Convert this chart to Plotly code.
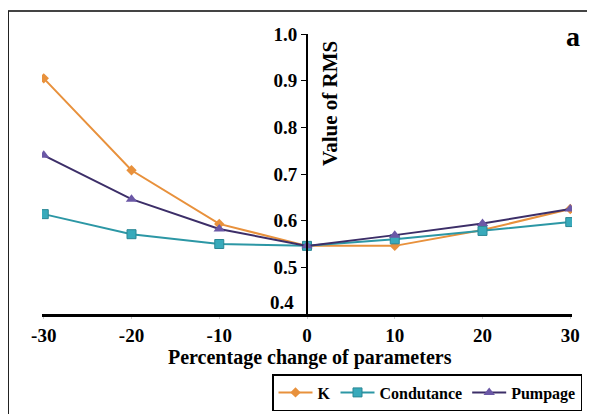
import plotly.graph_objects as go

pct_change = [-30, -20, -10, 0, 10, 20, 30]
rms_k = [0.905, 0.708, 0.593, 0.546, 0.546, 0.580, 0.625]
rms_conductance = [0.614, 0.571, 0.550, 0.546, 0.560, 0.578, 0.597]
rms_pumpage = [0.740, 0.646, 0.582, 0.546, 0.569, 0.594, 0.625]
y_ticks = [0.4, 0.5, 0.6, 0.7, 0.8, 0.9, 1.0]

FONT = "Liberation Serif"
W, H = 595, 414
OFF = 8  # page body margin offset in the screenshot
# plot area in screenshot pixels: x 42..572, y 34..314
L, R, T, B = 42 - OFF, W - (572 - OFF), 34 - OFF, H - (314 - OFF)
pw, ph = 572 - 42, 314 - 34

def px(x):
    return (x - 42) / pw

def py(y):
    return (314 - y) / ph

fig = go.Figure()
fig.add_trace(go.Scatter(
    x=pct_change, y=rms_k, name="K", mode="lines+markers",
    line=dict(color="#E8913C", width=2),
    marker=dict(symbol="diamond", size=8, color="#E8913C"),
))
fig.add_trace(go.Scatter(
    x=pct_change, y=rms_conductance, name="Condutance", mode="lines+markers",
    line=dict(color="#2C97A5", width=2),
    marker=dict(symbol="square", size=9, color="#38AABB", line=dict(color="#2A8795", width=1)),
))
fig.add_trace(go.Scatter(
    x=pct_change, y=rms_pumpage, name="Pumpage", mode="lines+markers",
    line=dict(color="#3C2E68", width=2),
    marker=dict(symbol="triangle-up", size=10, color="#6B58A6"),
))

fig.update_layout(
    width=W, height=H, autosize=False,
    margin=dict(l=L, r=R, t=T, b=B, autoexpand=False),
    paper_bgcolor="white", plot_bgcolor="white",
    font=dict(family=FONT, color="black", size=15),
    showlegend=True,
    legend=dict(
        orientation="h", x=px(272), y=py(411), xanchor="left", yanchor="bottom",
        bordercolor="black", borderwidth=1.5, bgcolor="white",
        font=dict(family=FONT, size=16, weight="bold", color="black"),
        itemwidth=34, tracegroupgap=0,
    ),
    xaxis=dict(
        range=[-30.2, 30.2], tickvals=pct_change, ticktext=[str(v) for v in pct_change],
        showgrid=False, zeroline=False, showline=True, linecolor="black", linewidth=3,
        ticks="outside", ticklen=2, tickcolor="#cccccc", ticklabelstandoff=0,
        tickfont=dict(family=FONT, size=19, weight="bold"),
        automargin=False,
    ),
    yaxis=dict(
        range=[0.4, 1.0], tickvals=y_ticks,
        ticktext=[""] + [f"{v:.1f}" for v in y_ticks[1:]],
        showgrid=False, zeroline=False, showline=True, linecolor="black", linewidth=2,
        ticks="outside", ticklen=5, tickcolor="black",
        anchor="free", position=0.5, automargin=False,
        tickfont=dict(family=FONT, size=19, weight="bold"),
    ),
)

fig.add_annotation(
    x=px(296), y=py(302), xref="paper", yref="paper", showarrow=False,
    xanchor="right", yanchor="middle",
    text=f"{y_ticks[0]:.1f}", font=dict(family=FONT, size=19, weight="bold"),
)
fig.add_annotation(
    x=px(310), y=py(357), xref="paper", yref="paper", showarrow=False,
    xanchor="center", yanchor="middle",
    text="Percentage change of parameters",
    font=dict(family=FONT, size=20, weight="bold"),
)
fig.add_annotation(
    x=px(330), y=py(104), xref="paper", yref="paper", showarrow=False,
    xanchor="center", yanchor="middle",
    text="Value of RMS", textangle=-90,
    font=dict(family=FONT, size=21, weight="bold"),
)
fig.add_annotation(
    x=px(573), y=py(37), xref="paper", yref="paper", showarrow=False,
    xanchor="center", yanchor="middle",
    text="a", font=dict(family=FONT, size=28, weight="bold"),
)

fig.add_shape(type="line", xref="paper", yref="paper",
              x0=px(8), x1=px(600), y0=py(11), y1=py(11),
              line=dict(color="#444444", width=2))
fig.add_shape(type="line", xref="paper", yref="paper",
              x0=px(8), x1=px(8), y0=py(11), y1=py(420),
              line=dict(color="#222222", width=2))

fig.write_html("out.html")
